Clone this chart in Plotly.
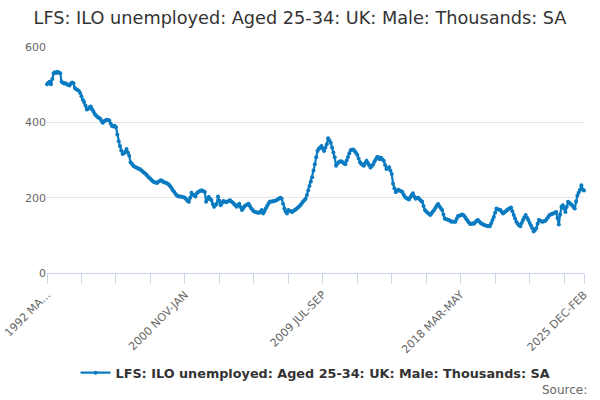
import plotly.graph_objects as go

months = ["JAN", "FEB", "MAR", "APR", "MAY", "JUN", "JUL", "AUG", "SEP", "OCT", "NOV", "DEC"]
categories = []
for k in range(406):
    m = 2 + k
    y, mo = 1992 + m // 12, m % 12
    categories.append(f"{y} {months[mo]}-{months[(mo + 2) % 12]}")

values = [
    501, 505, 508, 501, 515, 530, 533, 531, 534, 532,
    530, 508, 505, 503, 504, 501, 499, 498, 503, 506,
    504, 491, 488, 486, 484, 478, 469, 460, 454, 445,
    434, 436, 440, 442, 435, 429, 422, 418, 414, 412,
    410, 404, 399, 402, 405, 407, 406, 405, 397, 390,
    389, 391, 387, 368, 350, 337, 325, 316, 318, 322,
    329, 320, 311, 294, 290, 285, 283, 281, 279, 277,
    276, 273, 270, 267, 264, 261, 257, 253, 250, 246,
    243, 241, 240, 239, 242, 244, 246, 244, 241, 240,
    239, 237, 234, 230, 225, 219, 215, 210, 206, 204,
    203, 203, 202, 201, 200, 196, 191, 189, 200, 213,
    208, 206, 203, 212, 215, 217, 219, 219, 217, 215,
    189, 196, 202, 197, 193, 183, 176, 180, 184, 203,
    192, 180, 186, 191, 190, 188, 189, 191, 193, 190,
    187, 184, 180, 176, 180, 184, 175, 167, 172, 177,
    180, 182, 184, 178, 172, 167, 164, 162, 161, 160,
    160, 163, 167, 158, 164, 171, 178, 184, 189, 190,
    190, 191, 192, 193, 195, 198, 200, 197, 184, 171,
    163, 158, 167, 165, 163, 162, 165, 167, 170, 173,
    176, 180, 184, 189, 193, 197, 207, 219, 231, 243,
    254, 272, 289, 307, 324, 330, 333, 337, 330, 324,
    333, 342, 358, 352, 346, 333, 320, 307, 285, 290,
    294, 296, 297, 294, 291, 289, 299, 308, 318, 326,
    327, 328, 324, 319, 314, 304, 294, 290, 287, 285,
    292, 298, 292, 286, 280, 284, 289, 296, 302, 308,
    307, 302, 306, 301, 298, 287, 276, 279, 281, 272,
    263, 237, 225, 215, 218, 221, 219, 217, 215, 208,
    202, 199, 197, 195, 201, 207, 212, 203, 197, 199,
    200, 196, 192, 189, 178, 167, 163, 160, 157, 154,
    158, 163, 167, 173, 179, 183, 177, 172, 167, 155,
    145, 143, 142, 141, 139, 136, 137, 136, 136, 144,
    151, 152, 153, 155, 154, 150, 145, 140, 135, 131,
    130, 132, 131, 135, 139, 141, 137, 133, 131, 129,
    127, 126, 125, 125, 124, 132, 141, 149, 160, 171,
    169, 168, 167, 162, 158, 161, 164, 167, 170, 172,
    174, 164, 154, 145, 136, 131, 127, 124, 133, 141,
    148, 154, 147, 141, 133, 126, 119, 110, 114, 119,
    131, 141, 139, 137, 136, 138, 139, 144, 149, 154,
    155, 157, 158, 160, 162, 146, 129, 155, 176, 180,
    171, 162, 176, 189, 186, 183, 180, 175, 171, 190,
    206, 214, 221, 233, 222, 219,
]

tick_positions = list(range(0, 406, 26)) + [405]
tick_labels = {0: "1992 MA...", 104: "2000 NOV-JAN", 208: "2009 JUL-SEP",
               312: "2018 MAR-MAY", 405: "2025 DEC-FEB"}

series_name = "LFS: ILO unemployed: Aged 25-34: UK: Male: Thousands: SA"
color = "#0a7bc1"
font = "DejaVu Sans"

fig = go.Figure()
fig.add_trace(go.Scatter(
    x=categories, y=values, mode="lines+markers", name=series_name,
    line=dict(color=color, width=2.2),
    marker=dict(color=color, size=4),
    cliponaxis=False,
))

fig.update_layout(
    width=600, height=400,
    paper_bgcolor="white", plot_bgcolor="white",
    margin=dict(l=46.5, r=16, t=47, b=127, autoexpand=False),
    font=dict(family=font, color="#666666", size=11),
    title=dict(text=series_name, x=0.5, xanchor="center", y=0.955, yanchor="middle",
               font=dict(family=font, size=17.7, color="#333333")),
    showlegend=True,
    legend=dict(orientation="h", x=0.5, xanchor="center", y=-0.442, yanchor="middle",
                font=dict(family=font, size=12.8, color="#333333", weight="bold"),
                itemwidth=30),
    xaxis=dict(
        type="category", range=[0, 405], automargin=False,
        tickvals=[categories[p] for p in tick_positions],
        ticktext=[tick_labels.get(p, "") for p in tick_positions],
        tickangle=-45, ticks="outside", ticklen=10, tickcolor="#ccd6eb", tickwidth=1,
        showline=True, linecolor="#ccd6eb", linewidth=1,
        showgrid=False, zeroline=False,
        tickfont=dict(family=font, size=11, color="#666666"),
    ),
    yaxis=dict(
        range=[0, 600], tickvals=[0, 200, 400, 600], automargin=False,
        showgrid=True, gridcolor="#e6e6e6", gridwidth=1,
        zeroline=False, showline=False, ticks="",
        tickfont=dict(family=font, size=11, color="#666666"),
    ),
    annotations=[dict(text="Source:", xref="paper", yref="paper", x=1.01, y=-0.518,
                      xanchor="right", yanchor="middle", showarrow=False,
                      font=dict(family=font, size=12, color="#666666"))],
)

fig.write_html("out.html", config={"displayModeBar": False},
               post_script="document.body.style.margin='0';")
